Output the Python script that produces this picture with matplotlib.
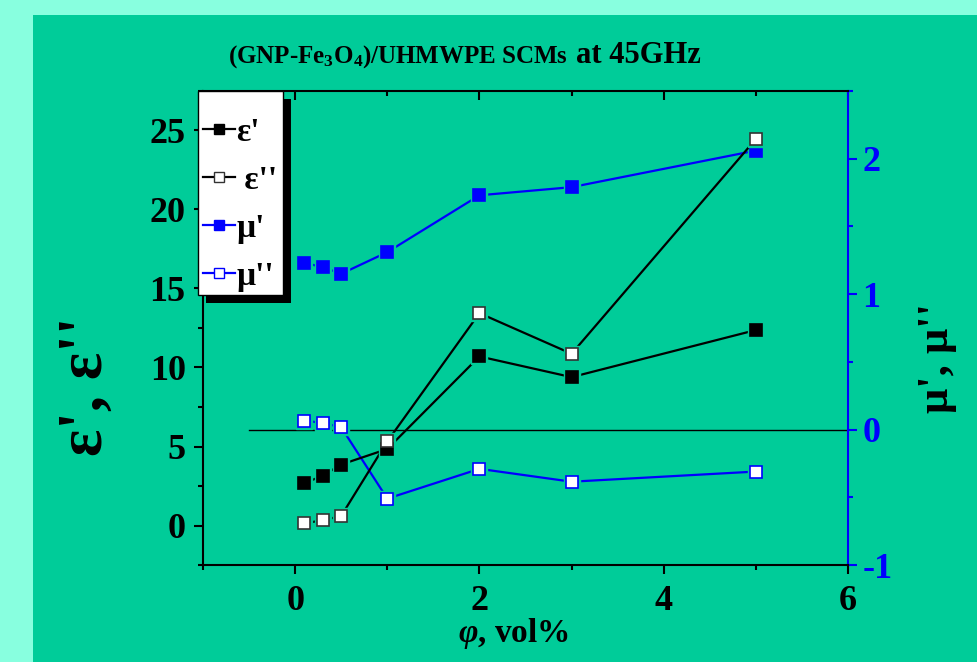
import matplotlib
matplotlib.use('Agg')
import matplotlib.pyplot as plt
from matplotlib.lines import Line2D
from matplotlib.patches import Rectangle
from matplotlib.ticker import MultipleLocator

# 字体：Times 风格粗体
plt.rcParams['font.family'] = ['Liberation Serif', 'DejaVu Serif']
plt.rcParams['font.weight'] = 'bold'
plt.rcParams['axes.unicode_minus'] = False
plt.rcParams['mathtext.fontset'] = 'custom'
plt.rcParams['mathtext.rm'] = 'Liberation Serif:bold'
plt.rcParams['mathtext.it'] = 'Liberation Serif:italic:bold'
plt.rcParams['mathtext.bf'] = 'Liberation Serif:bold'

# 数据
phi = [0.1, 0.3, 0.5, 1, 2, 3, 5]
eps_real = [2.68, 3.15, 3.86, 4.84, 10.70, 9.39, 12.37]
eps_imag = [0.15, 0.32, 0.61, 5.32, 13.44, 10.87, 24.46]
mu_real = [1.23, 1.20, 1.15, 1.31, 1.73, 1.79, 2.06]
mu_imag = [0.066, 0.049, 0.017, -0.51, -0.29, -0.385, -0.31]

legend_labels = ["ε'", " ε''", "μ'", "μ''"]
zero_line_x = [-0.5, 6]
x_ticks = [0, 2, 4, 6]
left_ticks = [0, 5, 10, 15, 20, 25]
right_ticks = [-1, 0, 1, 2]

bg_out = '#88FFDF'
bg_panel = '#00CC99'
blue = '#0000FF'

W, H = 977, 662
fig = plt.figure(figsize=(W / 100, H / 100), dpi=100)
fig.patch.set_facecolor(bg_out)
fig.add_artist(Rectangle((33 / W, 0), 1, 647 / H, transform=fig.transFigure,
                         facecolor=bg_panel, edgecolor='none', zorder=0))

ax = fig.add_axes([203 / W, 97 / H, 645 / W, 474 / H])
ax.set_facecolor('none')
ax2 = ax.twinx()
ax.set_zorder(2)
ax2.set_zorder(1)


# 画一条带缺口的折线（Origin 风格）
def draw_series(a, x, y, color, mfc, mec):
    a.plot(x, y, '-', color=color, lw=1.6, zorder=2)
    a.plot(x, y, 's', ms=12, color=bg_panel, mec=bg_panel, zorder=3)
    a.plot(x, y, 's', ms=8, mfc=mfc, mec=mec, mew=1.2, zorder=4)


draw_series(ax2, phi, mu_real, blue, blue, blue)
draw_series(ax2, phi, mu_imag, blue, 'white', blue)
ax2.plot(zero_line_x, [0, 0], color='black', lw=1.0, zorder=1)
draw_series(ax, phi, eps_real, 'black', 'black', 'black')
draw_series(ax, phi, eps_imag, 'black', 'white', '#333333')

# 坐标轴范围
ax.set_xlim(-1, 6)
ax.set_ylim(-2.5, 27.5)
ax2.set_ylim(-1, 2.5)

ax.set_xticks(x_ticks)
ax.xaxis.set_minor_locator(MultipleLocator(1))
ax.set_yticks(left_ticks)
ax.yaxis.set_minor_locator(MultipleLocator(2.5))
ax2.set_yticks(right_ticks)
ax2.yaxis.set_minor_locator(MultipleLocator(0.5))

for s in ['left', 'top', 'bottom']:
    ax.spines[s].set_linewidth(1.5)
ax.spines['right'].set_visible(False)
for s in ['left', 'top', 'bottom']:
    ax2.spines[s].set_visible(False)
ax2.spines['right'].set_color(blue)
ax2.spines['right'].set_linewidth(1.5)

ax.tick_params(axis='both', which='major', direction='out', length=6.5, width=1.5, labelsize=26)
ax.tick_params(axis='both', which='minor', direction='out', length=3.5, width=1.5)
ax.tick_params(axis='x', pad=8, top=False)
ax.tick_params(axis='y', pad=6, right=False)
ax2.tick_params(axis='y', which='major', direction='out', length=6.5, width=1.5,
                labelsize=26, colors=blue, pad=4)
ax2.tick_params(axis='y', which='minor', direction='out', length=3.5, width=1.5, colors=blue)

# 顶部刻度朝内
ax2.xaxis.set_visible(True)
ax2.tick_params(axis='x', which='both', direction='in', top=True, bottom=False,
                labeltop=False, labelbottom=False, width=1.5)
ax2.tick_params(axis='x', which='major', length=6.5)
ax2.tick_params(axis='x', which='minor', length=3.5)

# 图例：手动画白框和黑色阴影
ax.add_patch(Rectangle((206 / W, 1 - 303 / H), 85 / W, 204 / H, transform=fig.transFigure,
                       facecolor='black', edgecolor='none', clip_on=False, zorder=5))
ax.add_patch(Rectangle((198 / W, 1 - 295 / H), 85 / W, 204 / H, transform=fig.transFigure,
                       facecolor='white', edgecolor='black', lw=1.0, clip_on=False, zorder=5.1))
handles = [
    Line2D([], [], color='black', lw=1.6, marker='s', ms=7, mfc='black', mec='black'),
    Line2D([], [], color='black', lw=1.6, marker='s', ms=7, mfc='white', mec='#333333'),
    Line2D([], [], color=blue, lw=1.6, marker='s', ms=7, mfc=blue, mec=blue),
    Line2D([], [], color=blue, lw=1.6, marker='s', ms=7, mfc='white', mec=blue),
]
leg = ax.legend(handles, legend_labels, loc='upper left',
                bbox_to_anchor=(203 / W, 1 - 117 / H), bbox_transform=fig.transFigure,
                borderaxespad=0, frameon=False, borderpad=0,
                prop={'size': 24, 'weight': 'bold'}, handlelength=0.95, handletextpad=0.05,
                labelspacing=0.51)
leg.set_zorder(6)

# 标题和轴标签
fig.text(568 / W, 1 - 63 / H, r'(GNP-Fe$_\mathrm{3}$O$_\mathrm{4}$)/UHMWPE SCMs',
         ha='right', va='baseline', fontsize=18, fontweight='bold')
fig.text(576 / W, 1 - 63 / H, 'at 45GHz', ha='left', va='baseline',
         fontsize=22, fontweight='bold')
fig.text(514 / W, 1 - 642 / H, r'$\it{φ}$, vol%', ha='center', va='baseline',
         fontsize=24, fontweight='bold')
fig.text(87 / W, 1 - 386 / H, "ε', ε''", rotation=90, ha='center', va='center',
         fontsize=46, fontweight='bold')
fig.text(937 / W, 1 - 358 / H, "μ', μ''", rotation=90, ha='center', va='center',
         fontsize=32, fontweight='bold')

fig.savefig('out.png', dpi=100, facecolor=fig.get_facecolor())
